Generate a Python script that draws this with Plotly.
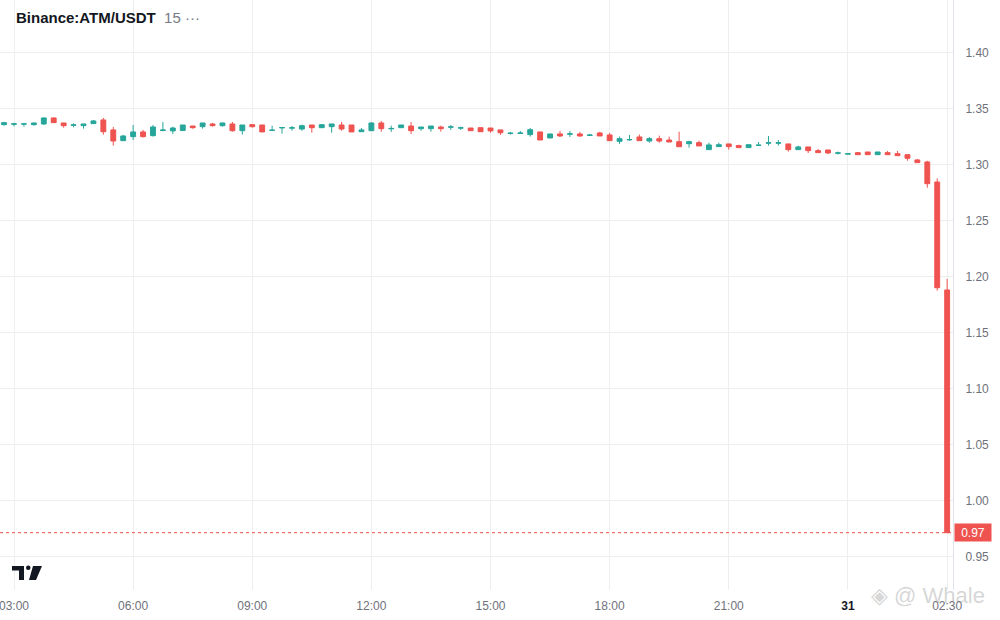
import pandas as pd
import plotly.graph_objects as go

# 15 minute candles, first bar at 02:45 on the 30th
START = "2024-03-30 02:45"
BAR = "15min"

OPEN = [
    1.3360, 1.3364, 1.3365, 1.3360, 1.3366, 1.3420, 1.3375, 1.3354, 1.3351, 1.3369,
    1.3402, 1.3313, 1.3217, 1.3253, 1.3295, 1.3262, 1.3308, 1.3304, 1.3308, 1.3348,
    1.3342, 1.3366, 1.3351, 1.3366, 1.3306, 1.3360, 1.3357, 1.3308, 1.3331, 1.3329,
    1.3321, 1.3357, 1.3333, 1.3342, 1.3357, 1.3357, 1.3297, 1.3306, 1.3375, 1.3323,
    1.3333, 1.3348, 1.3324, 1.3324, 1.3339, 1.3337, 1.3329, 1.3330, 1.3333, 1.3330,
    1.3313, 1.3281, 1.3282, 1.3271, 1.3295, 1.3241, 1.3277, 1.3275, 1.3277, 1.3264,
    1.3286, 1.3268, 1.3211, 1.3224, 1.3250, 1.3214, 1.3235, 1.3223, 1.3208, 1.3190,
    1.3199, 1.3137, 1.3164, 1.3188, 1.3173, 1.3155, 1.3174, 1.3195, 1.3195, 1.3188,
    1.3137, 1.3161, 1.3128, 1.3134, 1.3105, 1.3097, 1.3110, 1.3116, 1.3092, 1.3110,
    1.3101, 1.3092, 1.3045, 1.3027, 1.2848, 1.1884,
]
HIGH = [
    1.3384, 1.3375, 1.3375, 1.3378, 1.3422, 1.3422, 1.3375, 1.3372, 1.3368, 1.3402,
    1.3420, 1.3339, 1.3268, 1.3357, 1.3313, 1.3357, 1.3384, 1.3342, 1.3357, 1.3348,
    1.3375, 1.3375, 1.3378, 1.3384, 1.3357, 1.3366, 1.3357, 1.3351, 1.3335, 1.3348,
    1.3360, 1.3357, 1.3360, 1.3366, 1.3384, 1.3357, 1.3330, 1.3381, 1.3393, 1.3351,
    1.3357, 1.3384, 1.3339, 1.3348, 1.3351, 1.3357, 1.3342, 1.3330, 1.3335, 1.3330,
    1.3313, 1.3295, 1.3304, 1.3330, 1.3295, 1.3277, 1.3304, 1.3304, 1.3295, 1.3277,
    1.3295, 1.3286, 1.3253, 1.3268, 1.3271, 1.3250, 1.3262, 1.3253, 1.3297, 1.3217,
    1.3217, 1.3199, 1.3199, 1.3188, 1.3181, 1.3181, 1.3205, 1.3259, 1.3223, 1.3188,
    1.3173, 1.3161, 1.3143, 1.3134, 1.3119, 1.3102, 1.3110, 1.3116, 1.3116, 1.3125,
    1.3125, 1.3092, 1.3054, 1.3038, 1.2881, 1.1982,
]
LOW = [
    1.3351, 1.3345, 1.3342, 1.3351, 1.3357, 1.3378, 1.3333, 1.3336, 1.3325, 1.3369,
    1.3271, 1.3173, 1.3214, 1.3223, 1.3244, 1.3253, 1.3300, 1.3277, 1.3308, 1.3324,
    1.3324, 1.3342, 1.3342, 1.3297, 1.3271, 1.3333, 1.3295, 1.3306, 1.3280, 1.3306,
    1.3306, 1.3288, 1.3333, 1.3288, 1.3306, 1.3295, 1.3297, 1.3306, 1.3297, 1.3295,
    1.3333, 1.3277, 1.3306, 1.3297, 1.3297, 1.3313, 1.3313, 1.3306, 1.3297, 1.3288,
    1.3268, 1.3271, 1.3280, 1.3253, 1.3223, 1.3241, 1.3250, 1.3250, 1.3250, 1.3259,
    1.3259, 1.3217, 1.3188, 1.3217, 1.3217, 1.3199, 1.3199, 1.3205, 1.3163, 1.3154,
    1.3170, 1.3137, 1.3164, 1.3137, 1.3155, 1.3155, 1.3173, 1.3173, 1.3173, 1.3119,
    1.3137, 1.3107, 1.3110, 1.3098, 1.3092, 1.3096, 1.3092, 1.3092, 1.3092, 1.3092,
    1.3083, 1.3038, 1.3021, 1.2797, 1.1878, 0.9717,
]
CLOSE = [
    1.3378, 1.3367, 1.3367, 1.3375, 1.3420, 1.3378, 1.3351, 1.3358, 1.3366, 1.3393,
    1.3297, 1.3214, 1.3259, 1.3295, 1.3253, 1.3339, 1.3312, 1.3330, 1.3357, 1.3333,
    1.3375, 1.3351, 1.3375, 1.3306, 1.3357, 1.3342, 1.3295, 1.3311, 1.3334, 1.3332,
    1.3351, 1.3333, 1.3360, 1.3366, 1.3321, 1.3295, 1.3313, 1.3375, 1.3324, 1.3326,
    1.3357, 1.3306, 1.3339, 1.3348, 1.3324, 1.3340, 1.3332, 1.3306, 1.3297, 1.3304,
    1.3288, 1.3284, 1.3285, 1.3315, 1.3223, 1.3277, 1.3259, 1.3278, 1.3259, 1.3267,
    1.3259, 1.3217, 1.3235, 1.3227, 1.3217, 1.3235, 1.3214, 1.3205, 1.3163, 1.3208,
    1.3170, 1.3179, 1.3181, 1.3164, 1.3155, 1.3181, 1.3177, 1.3198, 1.3198, 1.3137,
    1.3161, 1.3128, 1.3110, 1.3107, 1.3108, 1.3100, 1.3092, 1.3092, 1.3116, 1.3092,
    1.3083, 1.3060, 1.3021, 1.2833, 1.1904, 0.9717,
]

TICK_TIMES = [
    "2024-03-30 03:00", "2024-03-30 06:00", "2024-03-30 09:00", "2024-03-30 12:00",
    "2024-03-30 15:00", "2024-03-30 18:00", "2024-03-30 21:00", "2024-03-31 00:00",
    "2024-03-31 02:30",
]
TICK_LABELS = ["03:00", "06:00", "09:00", "12:00", "15:00", "18:00", "21:00",
               "<b><span style='color:#131722'>31</span></b>", "02:30"]
PRICE_TICKS = [0.95, 1.00, 1.05, 1.10, 1.15, 1.20, 1.25, 1.30, 1.35, 1.40]

UP = "#26a69a"
DOWN = "#ef5350"
GRID = "#eeeeee"
TEXT = "#6f717a"
FONT = "Liberation Sans, Arial, sans-serif"

W, H = 1000, 620
ML, MR, MT, MB = 0, 47, 0, 30
PW, PH = W - ML - MR, H - MT - MB


def px(x, y):
    # pixel position -> paper coords, only used for the decorations
    return (x - ML) / PW, 1 - (y - MT) / PH


times = pd.date_range(START, periods=len(OPEN), freq=BAR)
last_price = CLOSE[-1]

fig = go.Figure(go.Candlestick(
    x=times, open=OPEN, high=HIGH, low=LOW, close=CLOSE,
    increasing=dict(line=dict(color=UP, width=1), fillcolor=UP),
    decreasing=dict(line=dict(color=DOWN, width=1), fillcolor=DOWN),
    whiskerwidth=0,
    showlegend=False,
))

# last price dotted line + tag on the price scale
fig.add_shape(type="line", xref="paper", x0=0, x1=1, yref="y",
              y0=last_price, y1=last_price,
              line=dict(color=DOWN, width=1, dash="dot"))
fig.add_annotation(xref="paper", x=1, xanchor="left", xshift=1, yref="y", y=last_price,
                   text=f"{last_price:.2f}", showarrow=False, bgcolor=DOWN,
                   font=dict(color="white", size=12, family=FONT),
                   width=34, height=15, borderpad=1)

# symbol header
hx, hy = px(14, 18)
fig.add_annotation(xref="paper", yref="paper", x=hx, y=hy, xanchor="left", yanchor="middle",
                   text="<b>Binance:ATM/USDT</b>  <span style='color:#787b86'>15 ···</span>",
                   showarrow=False, font=dict(size=15, color="#131722", family=FONT))

# watermark bottom right
wx, wy = px(928, 595)
fig.add_annotation(xref="paper", yref="paper", x=wx, y=wy, xanchor="center", yanchor="middle",
                   text="◈ @ Whale", showarrow=False,
                   font=dict(size=22, color="rgba(150,150,150,0.4)", family=FONT))

# TradingView logo, rough shapes
def path(points):
    pts = [px(*p) for p in points]
    return "M" + " L".join(f"{a:.5f},{b:.5f}" for a, b in pts) + " Z"

fig.add_shape(type="path", xref="paper", yref="paper", line_width=0, fillcolor="#131722",
              path=path([(12, 566), (24, 566), (24, 580), (19, 580), (19, 570.5), (12, 570.5)]))
cx0, cy0 = px(26, 565.5)
cx1, cy1 = px(30.5, 570)
fig.add_shape(type="circle", xref="paper", yref="paper", x0=cx0, y0=cy0, x1=cx1, y1=cy1,
              line_width=0, fillcolor="#131722")
fig.add_shape(type="path", xref="paper", yref="paper", line_width=0, fillcolor="#131722",
              path=path([(33, 566), (42, 566), (36, 580), (29, 580)]))

fig.update_layout(
    width=W, height=H,
    margin=dict(l=ML, r=MR, t=MT, b=MB),
    paper_bgcolor="white", plot_bgcolor="white",
    font=dict(family=FONT, size=12, color=TEXT),
    xaxis=dict(
        type="date",
        range=["2024-03-30 02:38:50", "2024-03-31 02:38:50"],
        tickvals=TICK_TIMES, ticktext=TICK_LABELS,
        showgrid=True, gridcolor=GRID, gridwidth=1,
        zeroline=False, showline=False,
        rangeslider=dict(visible=False),
        ticklabelstandoff=7,
        ticklabeloverflow="allow",
        tickfont=dict(size=12, color=TEXT),
    ),
    yaxis=dict(
        side="right",
        range=[0.9205, 1.4473],
        tickvals=PRICE_TICKS, ticktext=[f"{v:.2f}" for v in PRICE_TICKS],
        showgrid=True, gridcolor=GRID, gridwidth=1,
        zeroline=False,
        showline=True, linecolor="#e0e3eb", linewidth=1,
        ticklabelstandoff=9,
        tickfont=dict(size=12, color=TEXT),
    ),
    hovermode=False,
)

fig.write_html("out.html", config={"displayModeBar": False},
               post_script="document.body.style.margin='0';")
